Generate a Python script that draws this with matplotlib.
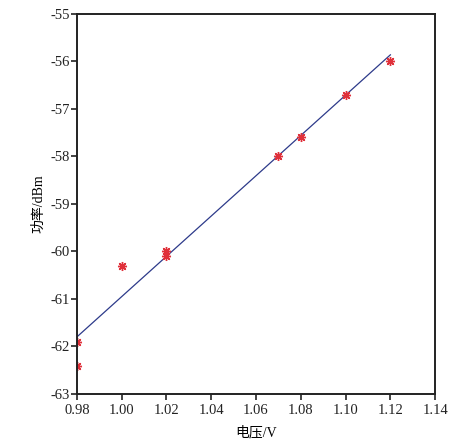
import numpy as np
import matplotlib.pyplot as plt

plt.rcParams['font.family'] = ['Liberation Serif', 'Noto Sans CJK SC']

# measured points (voltage V, power dBm)
volt = [0.98, 0.98, 1.00, 1.02, 1.02, 1.07, 1.08, 1.10, 1.12]
power = [-61.9, -62.4, -60.3, -60.0, -60.1, -58.0, -57.6, -56.7, -56.0]

# fitted line end points
fit_x = [0.98, 1.12]
fit_y = [-61.8, -55.86]

xticks = [0.98, 1.00, 1.02, 1.04, 1.06, 1.08, 1.10, 1.12, 1.14]
yticks = [-63, -62, -61, -60, -59, -58, -57, -56, -55]

fig = plt.figure(figsize=(4.6, 4.45), dpi=100)
ax = fig.add_axes([0.167, 0.1146, 0.779, 0.854])

ax.plot(fit_x, fit_y, color='#2d3a8a', lw=0.9)
ax.plot(volt, power, ls='none', marker=(8, 2, 0), color='#e0303a', ms=6.5, mew=1.0)

ax.set_xlim(0.98, 1.14)
ax.set_ylim(-63, -55)
ax.set_xticks(xticks)
ax.set_xticklabels(['%.2f' % v for v in xticks])
ax.set_yticks(yticks)
ax.set_yticklabels([str(v) for v in yticks])
ax.tick_params(direction='out', length=4, width=1.2, labelsize=10.5, colors='#222222')
ax.tick_params(axis='y', pad=1)
for s in ax.spines.values():
    s.set_linewidth(1.4)
    s.set_color('#222222')

ax.set_xlabel('电压/V', fontsize=10, labelpad=6)
ax.set_ylabel('功率/dBm', fontsize=10, labelpad=4)

fig.savefig('out.png', dpi=100)
